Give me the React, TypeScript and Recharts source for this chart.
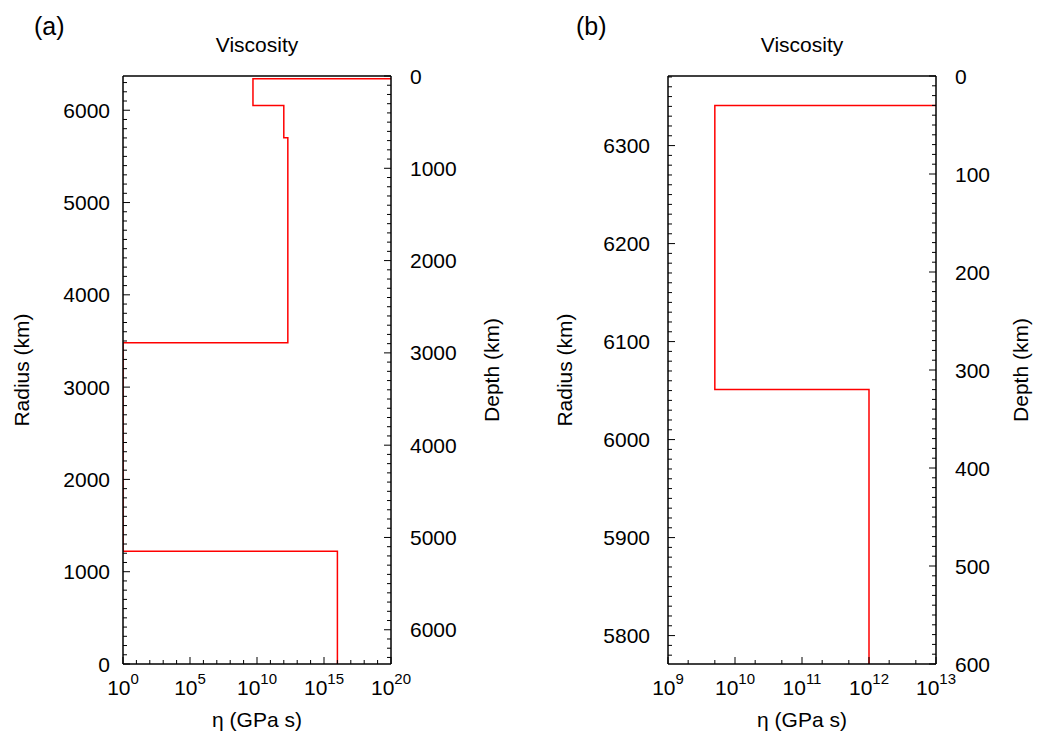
import React from 'react';
import { LineChart, Line, XAxis, YAxis } from 'recharts';

const FONT = '"Liberation Sans", Arial, Helvetica, sans-serif';
const EARTH_RADIUS = 6371;

// radius of the top of each layer (km), from the surface down
const layerTopRadius = [6371, 6341, 6051, 5701, 3480, 1221];
// viscosity of each layer (GPa s): lithosphere, upper mantle, transition zone, lower mantle, outer core, inner core
const layerViscosity = [1e25, 5e9, 1e12, 2e12, 1, 1e16];

// tick labels
const etaExpA = [0, 5, 10, 15, 20];
const etaExpB = [9, 10, 11, 12, 13];
const radiusLabelsA = [0, 1000, 2000, 3000, 4000, 5000, 6000];
const depthLabelsA = [0, 1000, 2000, 3000, 4000, 5000, 6000];
const radiusLabelsB = [5800, 5900, 6000, 6100, 6200, 6300];
const depthLabelsB = [0, 100, 200, 300, 400, 500, 600];

// step profile built from the layers
const profile = layerTopRadius.flatMap((top, i) => {
  const bottom = i + 1 < layerTopRadius.length ? layerTopRadius[i + 1] : 0;
  return [
    { eta: layerViscosity[i], r: top },
    { eta: layerViscosity[i], r: bottom },
  ];
});

const range = (from: number, to: number, step: number) => {
  const out: number[] = [];
  for (let v = from; v <= to + 1e-9; v += step) out.push(v);
  return out;
};

const MAJOR_LEN = 7;
const MINOR_LEN = 4;

type PanelProps = {
  left: number;
  width: number;
  leftAxisWidth: number;
  rightAxisWidth: number;
  etaDomain: [number, number];
  etaTicks: number[];
  etaLabels: number[];
  radiusDomain: [number, number];
  radiusTicks: number[];
  radiusLabels: number[];
  depthDomain: [number, number];
  depthTicks: number[];
  depthLabels: number[];
  leftGap: number;
};

const isLabelledEta = (v: number, exps: number[]) => {
  const e = Math.log10(v);
  return Math.abs(e - Math.round(e)) < 1e-6 && exps.includes(Math.round(e));
};

function Panel(p: PanelProps) {
  const bottomTick = (props: any) => {
    const { x, y, payload } = props;
    const major = isLabelledEta(payload.value, p.etaLabels);
    const exp = Math.round(Math.log10(payload.value));
    return (
      <g>
        <line x1={x} x2={x} y1={y} y2={y - (major ? MAJOR_LEN : MINOR_LEN)} stroke="#000" />
        {major && (
          <text x={x} y={y + 31} textAnchor="middle" fontSize={21} fontFamily={FONT} fill="#000">
            10<tspan dy={-11} fontSize={15}>{exp}</tspan>
          </text>
        )}
      </g>
    );
  };
  const topTick = (props: any) => {
    const { x, y, payload } = props;
    const major = isLabelledEta(payload.value, p.etaLabels);
    return <line x1={x} x2={x} y1={y} y2={y + (major ? MAJOR_LEN : MINOR_LEN)} stroke="#000" />;
  };
  const leftTick = (props: any) => {
    const { x, y, payload } = props;
    const major = p.radiusLabels.includes(payload.value);
    return (
      <g>
        <line x1={x} x2={x + (major ? MAJOR_LEN : MINOR_LEN)} y1={y} y2={y} stroke="#000" />
        {major && (
          <text x={x - p.leftGap} y={y + 7.5} textAnchor="end" fontSize={21} fontFamily={FONT} fill="#000">
            {payload.value}
          </text>
        )}
      </g>
    );
  };
  const rightTick = (props: any) => {
    const { x, y, payload } = props;
    const major = p.depthLabels.includes(payload.value);
    return (
      <g>
        <line x1={x} x2={x - (major ? MAJOR_LEN : MINOR_LEN)} y1={y} y2={y} stroke="#000" />
        {major && (
          <text x={x + 19} y={y + 7.5} textAnchor="start" fontSize={21} fontFamily={FONT} fill="#000">
            {payload.value}
          </text>
        )}
      </g>
    );
  };

  return (
    <div style={{ position: 'absolute', left: p.left, top: 0 }}>
      <LineChart width={p.width} height={733} data={profile} margin={{ top: 0, right: 0, bottom: 0, left: 0 }}>
        <XAxis
          xAxisId="eta"
          dataKey="eta"
          type="number"
          scale="log"
          domain={p.etaDomain}
          allowDataOverflow
          ticks={p.etaTicks}
          interval={0}
          tickSize={0}
          tickMargin={0}
          tickLine={false}
          tick={bottomTick}
          height={69}
          axisLine={{ stroke: '#000', strokeWidth: 1.5 }}
        />
        <XAxis
          xAxisId="etaTop"
          orientation="top"
          type="number"
          scale="log"
          domain={p.etaDomain}
          allowDataOverflow
          ticks={p.etaTicks}
          interval={0}
          tickSize={0}
          tickMargin={0}
          tickLine={false}
          tick={topTick}
          height={76}
          axisLine={{ stroke: '#000', strokeWidth: 1.5 }}
        />
        <YAxis
          yAxisId="radius"
          type="number"
          domain={p.radiusDomain}
          allowDataOverflow
          ticks={p.radiusTicks}
          interval={0}
          tickSize={0}
          tickMargin={0}
          tickLine={false}
          tick={leftTick}
          width={p.leftAxisWidth}
          axisLine={{ stroke: '#000', strokeWidth: 1.5 }}
        />
        <YAxis
          yAxisId="depth"
          orientation="right"
          type="number"
          domain={p.depthDomain}
          reversed
          allowDataOverflow
          ticks={p.depthTicks}
          interval={0}
          tickSize={0}
          tickMargin={0}
          tickLine={false}
          tick={rightTick}
          width={p.rightAxisWidth}
          axisLine={{ stroke: '#000', strokeWidth: 1.5 }}
        />
        <Line
          xAxisId="eta"
          yAxisId="radius"
          dataKey="r"
          type="linear"
          stroke="#ff0000"
          strokeWidth={1.5}
          dot={false}
          isAnimationActive={false}
        />
      </LineChart>
    </div>
  );
}

const etaTicksA = range(0, 20, 1).map((e) => Math.pow(10, e));
const etaTicksB = range(9, 12, 1)
  .flatMap((e) => [1, 2, 5].map((m) => m * Math.pow(10, e)))
  .concat([1e13]);

function Titles() {
  const t = { fontFamily: FONT, fill: '#000' } as const;
  return (
    <svg
      width={1037}
      height={733}
      style={{ position: 'absolute', left: 0, top: 0, pointerEvents: 'none' }}
    >
      <text x={34} y={35} fontSize={25} {...t}>(a)</text>
      <text x={576} y={35} fontSize={25} {...t}>(b)</text>
      <text x={257} y={51.5} fontSize={21} textAnchor="middle" {...t}>Viscosity</text>
      <text x={802} y={51.5} fontSize={21} textAnchor="middle" {...t}>Viscosity</text>
      <text x={257} y={727} fontSize={21} textAnchor="middle" {...t}>η (GPa s)</text>
      <text x={802} y={727} fontSize={21} textAnchor="middle" {...t}>η (GPa s)</text>
      <text x={28.5} y={370} fontSize={21} textAnchor="middle" transform="rotate(-90 28.5 370)" {...t}>
        Radius (km)
      </text>
      <text x={572} y={370} fontSize={21} textAnchor="middle" transform="rotate(-90 572 370)" {...t}>
        Radius (km)
      </text>
      <text x={498.5} y={370} fontSize={21} textAnchor="middle" transform="rotate(-90 498.5 370)" {...t}>
        Depth (km)
      </text>
      <text x={1027.5} y={370} fontSize={21} textAnchor="middle" transform="rotate(-90 1027.5 370)" {...t}>
        Depth (km)
      </text>
    </svg>
  );
}

export default function App() {
  return (
    <div style={{ position: 'absolute', left: 0, top: 0, width: 1037, height: 733, background: '#fff' }}>
      <Panel
        left={0}
        width={520}
        leftAxisWidth={123}
        rightAxisWidth={129}
        etaDomain={[1, 1e20]}
        etaTicks={etaTicksA}
        etaLabels={etaExpA}
        radiusDomain={[0, EARTH_RADIUS]}
        radiusTicks={range(0, 6300, 100)}
        radiusLabels={radiusLabelsA}
        depthDomain={[0, EARTH_RADIUS]}
        depthTicks={range(0, 6300, 100)}
        depthLabels={depthLabelsA}
        leftGap={13}
      />
      <Panel
        left={520}
        width={517}
        leftAxisWidth={148}
        rightAxisWidth={101}
        etaDomain={[1e9, 1e13]}
        etaTicks={etaTicksB}
        etaLabels={etaExpB}
        radiusDomain={[EARTH_RADIUS - 600, EARTH_RADIUS]}
        radiusTicks={range(5780, 6370, 10)}
        radiusLabels={radiusLabelsB}
        depthDomain={[0, 600]}
        depthTicks={range(0, 600, 10)}
        depthLabels={depthLabelsB}
        leftGap={18}
      />
      <Titles />
    </div>
  );
}
